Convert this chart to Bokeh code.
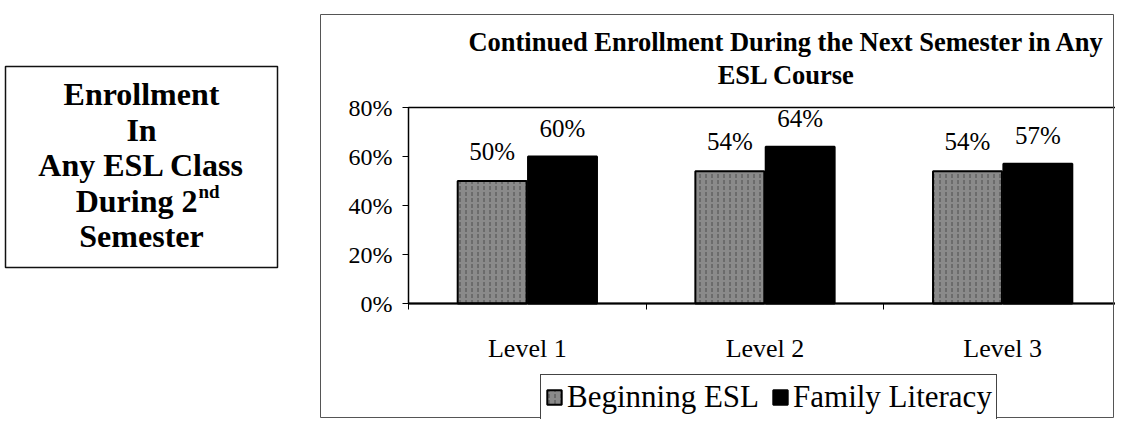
from bokeh.plotting import figure
from bokeh.models import (ColumnDataSource, Range1d, Label, LabelSet, LinearAxis,
                          BoxAnnotation, Legend, LegendItem, NumeralTickFormatter, FixedTicker)
from bokeh.embed import file_html
from bokeh.resources import INLINE

# ---- data ----
levels = ["Level 1", "Level 2", "Level 3"]
series_names = ["Beginning ESL", "Family Literacy"]
beginning_esl = [0.50, 0.54, 0.54]
family_literacy = [0.60, 0.64, 0.57]
y_ticks = [0.0, 0.2, 0.4, 0.6, 0.8]
title_lines = ["Continued Enrollment During the Next Semester in Any", "ESL Course"]
box_lines = ["Enrollment", "In", "Any ESL Class", "During 2", "Semester"]

W, H = 1115, 419
ORG = 0          # page position of the canvas origin (as observed)
SERIF = "Liberation Serif"

# plot-area placement (picture pixels)
PA_L, PA_R, PA_T, PA_B = 408, 1121, 107, 303
n = len(levels)
y_max = y_ticks[-1]
sx = (PA_R - PA_L) / n          # px per category
sy = (PA_B - PA_T) / y_max      # px per unit

def X(px):
    return (px - PA_L) / sx

def Y(py):
    return (PA_B - py) / sy

x_lo, x_hi = X(ORG), X(ORG + W)
y_hi, y_lo = Y(ORG), Y(ORG + H)

centers = [i + 0.5 for i in range(n)]
off = 0.148
bw = 0.29
src = ColumnDataSource(dict(
    xb=[c - off for c in centers],
    xf=[c + off for c in centers],
    beg=beginning_esl,
    fam=family_literacy,
    beg_lbl=[f"{v:.0%}" for v in beginning_esl],
    fam_lbl=[f"{v:.0%}" for v in family_literacy],
))

p = figure(x_range=Range1d(x_lo, x_hi), y_range=Range1d(y_lo, y_hi),
           width=W, height=H, output_backend="svg", toolbar_location=None,
           x_axis_location=None, y_axis_location=None, title=None,
           min_border=0)
p.background_fill_color = "white"
p.border_fill_color = "white"
p.outline_line_color = None
p.xgrid.visible = False
p.ygrid.visible = False

# plot area border (top and left; right edge runs off the picture)
p.add_layout(BoxAnnotation(left=0, right=X(1140), bottom=0, top=y_max, fill_alpha=0,
                           line_color="black", line_alpha=1, line_width=1.5))

r1 = p.vbar(x="xb", top="beg", width=bw, source=src,
            fill_color="#8a8a8a", line_color="black", line_width=2,
            hatch_pattern=":", hatch_color="#333333", hatch_alpha=0.7, hatch_scale=6)
r2 = p.vbar(x="xf", top="fam", width=bw, source=src,
            fill_color="black", line_color="black", line_width=2)

lab_font = "25px"
p.add_layout(LabelSet(x="xb", y="beg", text="beg_lbl", source=src,
                      y_offset=30, text_align="center", text_baseline="middle",
                      text_font=SERIF, text_font_size=lab_font, text_color="black"))
p.add_layout(LabelSet(x="xf", y="fam", text="fam_lbl", source=src,
                      y_offset=28, text_align="center", text_baseline="middle",
                      text_font=SERIF, text_font_size=lab_font, text_color="black"))

# axes fixed at the plot-area edges
yax = LinearAxis(fixed_location=0, bounds=(0, y_max))
yax.ticker = FixedTicker(ticks=y_ticks)
yax.formatter = NumeralTickFormatter(format="0%")
yax.major_label_text_font = SERIF
yax.major_label_text_font_size = "24px"
yax.major_label_text_color = "black"
yax.major_tick_out = 6
yax.major_tick_in = 0
yax.minor_tick_line_color = None
yax.axis_line_color = "black"
yax.major_tick_line_color = "black"
yax.major_label_standoff = 10
p.add_layout(yax, "left")

xax = LinearAxis(fixed_location=0, bounds=(0, n))
xax.ticker = FixedTicker(ticks=centers, minor_ticks=list(range(n + 1)))
xax.major_label_overrides = {c: lv for c, lv in zip(centers, levels)}
xax.major_label_text_font = SERIF
xax.major_label_text_font_size = "26px"
xax.major_label_text_color = "black"
xax.major_tick_line_color = None
xax.minor_tick_out = 6
xax.minor_tick_in = 0
xax.minor_tick_line_color = "black"
xax.axis_line_color = "black"
xax.axis_line_width = 2
xax.major_label_standoff = 24
p.add_layout(xax, "below")

# legend
legend = Legend(items=[LegendItem(label=series_names[0], renderers=[r1]),
                       LegendItem(label=series_names[1], renderers=[r2])],
                orientation="horizontal", location=(540 - ORG, ORG + H - 420),
                label_text_font=SERIF, label_text_font_size="31px", label_text_color="black",
                glyph_width=18, glyph_height=18, label_standoff=4, spacing=12,
                padding=4, margin=0, border_line_color="#444", border_line_width=1,
                border_line_alpha=1,
                background_fill_color="white", background_fill_alpha=1)
p.add_layout(legend, "center")

# outer chart border
p.add_layout(BoxAnnotation(left=X(320), right=X(ORG + W - 2), top=Y(14), bottom=Y(417),
                           fill_alpha=0, line_color="#555", line_alpha=1, line_width=1))

# title
for txt, py in zip(title_lines, [41, 74]):
    p.add_layout(Label(x=X(786), y=Y(py), text=txt,
                       text_align="center", text_baseline="middle", text_font=SERIF,
                       text_font_size="26.5px", text_font_style="bold", text_color="black"))

# left text box
p.add_layout(BoxAnnotation(left=X(5), right=X(277), top=Y(66), bottom=Y(267),
                           fill_alpha=0, line_color="#111", line_alpha=1, line_width=1.5))
for txt, py in zip(box_lines, [93, 129, 164, 200, 235]):
    if txt.startswith("During"):
        p.add_layout(Label(x=X(197), y=Y(py), text=txt,
                           text_align="right", text_baseline="middle", text_font=SERIF,
                           text_font_size="32px", text_font_style="bold", text_color="black"))
        p.add_layout(Label(x=X(198), y=Y(py - 9), text="nd",
                           text_align="left", text_baseline="middle", text_font=SERIF,
                           text_font_size="19px", text_font_style="bold", text_color="black"))
    else:
        p.add_layout(Label(x=X(141), y=Y(py), text=txt,
                           text_align="center", text_baseline="middle", text_font=SERIF,
                           text_font_size="32px", text_font_style="bold", text_color="black"))

open("out.html", "w").write(file_html(p, INLINE))
